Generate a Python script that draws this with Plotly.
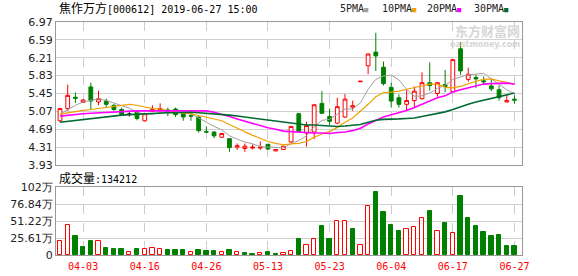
import plotly.graph_objects as go

# ---------------- data ----------------
dates = ["03-29", "04-01", "04-02", "04-03", "04-04", "04-08", "04-09", "04-10", "04-11", "04-12",
         "04-15", "04-16", "04-17", "04-18", "04-19", "04-22", "04-23", "04-24", "04-25", "04-26",
         "04-29", "04-30", "05-06", "05-07", "05-08", "05-09", "05-10", "05-13", "05-14", "05-15",
         "05-16", "05-17", "05-20", "05-21", "05-22", "05-23", "05-24", "05-27", "05-28", "05-29",
         "05-30", "05-31", "06-03", "06-04", "06-05", "06-06", "06-10", "06-11", "06-12", "06-13",
         "06-14", "06-17", "06-18", "06-19", "06-20", "06-21", "06-24", "06-25", "06-26", "06-27"]

open_ = [4.87, 5.13, 5.37, 5.26, 5.59, 5.27, 5.29, 5.20, 5.11, 5.01,
         5.06, 4.87, 5.07, 5.09, 5.10, 5.12, 5.02, 4.98, 4.95, 4.64,
         4.63, 4.52, 4.49, 4.31, 4.28, 4.29, 4.29, 4.37, 4.23, 4.26,
         4.42, 5.02, 4.61, 4.63, 5.24, 4.96, 4.82, 4.95, 5.16, 5.70,
         6.04, 6.33, 6.01, 5.58, 5.36, 5.22, 5.30, 5.34, 5.68, 5.45,
         5.64, 5.49, 6.40, 5.75, 5.79, 5.72, 5.61, 5.53, 5.27, 5.33]
high = [5.14, 5.64, 5.47, 5.33, 5.68, 5.51, 5.34, 5.22, 5.15, 5.05,
        5.08, 5.03, 5.20, 5.24, 5.15, 5.15, 5.03, 5.01, 4.96, 4.75,
        4.65, 4.61, 4.50, 4.39, 4.39, 4.37, 4.43, 4.38, 4.27, 4.34,
        4.76, 5.04, 4.85, 5.22, 5.50, 5.13, 5.36, 5.44, 5.30, 5.71,
        6.30, 6.74, 6.13, 5.68, 5.43, 5.52, 5.60, 5.90, 6.11, 5.69,
        5.95, 6.18, 6.54, 6.00, 5.85, 5.81, 5.76, 5.62, 5.41, 5.41]
low = [4.84, 5.08, 5.25, 5.25, 5.11, 5.20, 5.16, 5.08, 4.97, 4.96,
       4.88, 4.85, 5.06, 5.08, 4.97, 4.95, 4.87, 4.87, 4.62, 4.62,
       4.50, 4.51, 4.21, 4.25, 4.21, 4.26, 4.25, 4.25, 4.22, 4.25,
       4.40, 4.64, 4.32, 4.48, 5.02, 4.78, 4.80, 4.93, 5.08, 5.70,
       5.86, 5.93, 5.62, 5.15, 5.15, 5.09, 5.16, 5.32, 5.51, 5.38,
       5.48, 5.47, 5.85, 5.70, 5.57, 5.64, 5.50, 5.30, 5.26, 5.23]
close = [5.13, 5.41, 5.35, 5.31, 5.29, 5.34, 5.22, 5.11, 5.01, 5.01,
         4.92, 5.02, 5.11, 5.13, 5.07, 5.00, 4.95, 4.97, 4.66, 4.63,
         4.55, 4.60, 4.30, 4.34, 4.33, 4.31, 4.31, 4.27, 4.26, 4.33,
         4.75, 4.65, 4.77, 5.21, 5.03, 4.86, 5.17, 5.33, 5.19, 5.71,
         6.29, 6.25, 5.66, 5.29, 5.22, 5.30, 5.50, 5.68, 5.62, 5.68,
         5.60, 6.17, 5.93, 5.86, 5.76, 5.70, 5.55, 5.36, 5.30, 5.31]

ma5 = [5.01, 5.11, 5.20, 5.27, 5.30, 5.34, 5.30, 5.25, 5.19, 5.14,
       5.05, 5.01, 5.01, 5.04, 5.05, 5.07, 5.05, 5.02, 4.93, 4.84,
       4.75, 4.68, 4.55, 4.48, 4.42, 4.38, 4.32, 4.31, 4.30, 4.30,
       4.38, 4.45, 4.55, 4.74, 4.88, 4.90, 5.01, 5.12, 5.12, 5.25,
       5.54, 5.75, 5.82, 5.84, 5.74, 5.54, 5.39, 5.40, 5.46, 5.56,
       5.62, 5.75, 5.80, 5.85, 5.86, 5.88, 5.76, 5.65, 5.53, 5.44]
ma10 = [5.01, 5.04, 5.07, 5.09, 5.11, 5.13, 5.15, 5.18, 5.20, 5.22,
        5.20, 5.16, 5.13, 5.12, 5.09, 5.06, 5.03, 5.02, 4.98, 4.95,
        4.91, 4.87, 4.79, 4.71, 4.63, 4.56, 4.50, 4.43, 4.39, 4.36,
        4.38, 4.39, 4.43, 4.52, 4.59, 4.64, 4.73, 4.84, 4.93, 5.07,
        5.22, 5.38, 5.47, 5.48, 5.50, 5.54, 5.57, 5.61, 5.65, 5.65,
        5.58, 5.57, 5.60, 5.66, 5.71, 5.75, 5.76, 5.72, 5.69, 5.65]
ma20 = [4.97, 4.99, 5.01, 5.02, 5.03, 5.04, 5.05, 5.06, 5.07, 5.07,
        5.08, 5.08, 5.08, 5.09, 5.09, 5.09, 5.09, 5.09, 5.09, 5.08,
        5.05, 5.01, 4.96, 4.91, 4.86, 4.81, 4.77, 4.72, 4.69, 4.65,
        4.64, 4.63, 4.61, 4.61, 4.61, 4.60, 4.62, 4.63, 4.66, 4.71,
        4.80, 4.88, 4.95, 5.00, 5.04, 5.09, 5.15, 5.22, 5.29, 5.36,
        5.40, 5.48, 5.53, 5.57, 5.60, 5.65, 5.66, 5.67, 5.67, 5.65]
ma30 = [4.84, 4.86, 4.88, 4.90, 4.92, 4.94, 4.96, 4.98, 4.99, 5.00,
        5.01, 5.02, 5.03, 5.03, 5.04, 5.04, 5.05, 5.05, 5.04, 5.03,
        5.02, 5.01, 4.99, 4.97, 4.95, 4.93, 4.90, 4.88, 4.86, 4.84,
        4.83, 4.80, 4.78, 4.78, 4.77, 4.76, 4.75, 4.76, 4.77, 4.79,
        4.84, 4.88, 4.90, 4.90, 4.91, 4.92, 4.93, 4.96, 4.99, 5.03,
        5.06, 5.11, 5.17, 5.22, 5.27, 5.31, 5.35, 5.39, 5.42, 5.46]

volume_wan = [20.6, 45.6, 28.0, 12.3, 20.6, 20.6, 10.3, 8.8, 8.8, 4.4,
              8.8, 8.8, 10.3, 8.8, 7.4, 7.4, 7.4, 4.4, 7.4, 6.4,
              6.4, 4.4, 7.4, 4.4, 3.4, 1.5, 2.9, 4.9, 1.5, 2.9,
              5.9, 23.5, 14.7, 24.5, 44.1, 23.5, 51.0, 51.0, 39.7, 15.7,
              73.6, 94.2, 64.7, 45.6, 36.8, 39.2, 42.2, 55.4, 66.2, 36.3,
              48.6, 33.8, 88.3, 55.9, 44.1, 34.3, 28.0, 29.4, 13.2, 13.42]
# 1 = close not below previous close (red), 0 = lower (green)
volume_up = [1, 1, 0, 0, 0, 1, 0, 0, 0, 1,
             0, 1, 1, 1, 0, 0, 0, 1, 0, 0,
             0, 1, 0, 1, 0, 0, 1, 0, 0, 1,
             1, 0, 1, 1, 0, 0, 1, 1, 0, 1,
             1, 0, 0, 0, 0, 1, 1, 1, 0, 1,
             0, 1, 0, 0, 0, 0, 0, 0, 0, 0]

price_ticks = [3.93, 4.31, 4.69, 5.07, 5.45, 5.83, 6.21, 6.59, 6.97]
vol_ticks = [0, 25.61, 51.22, 76.83, 102.44]
vol_tick_text = ["0", "25.61万", "51.22万", "76.84万", "102万"]
date_ticks = ["04-03", "04-16", "04-26", "05-13", "05-23", "06-04", "06-17", "06-27"]
ma_names = ["5PMA", "10PMA", "20PMA", "30PMA"]
stock_name = "焦作万方"
stock_code = "000612"
timestamp = "2019-06-27 15:00"
last_volume = 134212

# ---------------- styling ----------------
W, H = 578, 276
ML, MR, MT, MB = 56, 56, 22, 21
PW, PH = W - ML - MR, H - MT - MB
RED, GREEN, BLACK = "#ff0000", "#008000", "#000000"
MA_COLORS = ["#a0a0a0", "#f0a000", "#ff00ff", "#006a30"]
MA_WIDTHS = [1, 1.2, 1.6, 1.6]
GRID, FRAME = "#d0d0d0", "#999999"
MONO = "DejaVu Sans Mono"
CJK = "Noto Sans CJK SC"


def px_x(x):
    return (x - ML) / PW


def px_y(y):
    return (H - MB - y) / PH


fig = go.Figure()

moving = [i for i in range(len(dates)) if open_[i] != close[i]]
flat = [i for i in range(len(dates)) if open_[i] == close[i]]

fig.add_trace(go.Candlestick(
    x=[dates[i] for i in moving], open=[open_[i] for i in moving], high=[high[i] for i in moving],
    low=[low[i] for i in moving], close=[close[i] for i in moving],
    increasing=dict(line=dict(color=RED, width=1), fillcolor="#ffffff"),
    decreasing=dict(line=dict(color=GREEN, width=1), fillcolor=GREEN),
    whiskerwidth=0, showlegend=False, hoverinfo="skip", xaxis="x", yaxis="y"))
fig.add_trace(go.Candlestick(
    x=[dates[i] for i in flat], open=[open_[i] for i in flat], high=[high[i] for i in flat],
    low=[low[i] for i in flat], close=[close[i] for i in flat],
    increasing=dict(line=dict(color=BLACK, width=1), fillcolor=BLACK),
    decreasing=dict(line=dict(color=BLACK, width=1), fillcolor=BLACK),
    whiskerwidth=0, showlegend=False, hoverinfo="skip", xaxis="x", yaxis="y"))

for name, vals, col, lw in zip(ma_names, [ma5, ma10, ma20, ma30], MA_COLORS, MA_WIDTHS):
    fig.add_trace(go.Scatter(x=dates, y=vals, mode="lines", name=name,
                             line=dict(color=col, width=lw), showlegend=False,
                             hoverinfo="skip", xaxis="x", yaxis="y"))

fig.add_trace(go.Bar(
    x=dates, y=volume_wan, width=0.56,
    marker=dict(color=["#ffffff" if u else GREEN for u in volume_up],
                line=dict(color=[RED if u else GREEN for u in volume_up], width=1)),
    showlegend=False, hoverinfo="skip", xaxis="x2", yaxis="y2"))

xcommon = dict(type="category", categoryorder="array", categoryarray=dates,
               range=[-0.52, len(dates) - 0.02], tickvals=date_ticks,
               showgrid=True, gridcolor="#cccccc", griddash="dash", gridwidth=1,
               showline=True, linecolor=FRAME, linewidth=1, mirror=True, ticks="",
               zeroline=False, fixedrange=True, automargin=False)
ycommon = dict(showgrid=True, gridcolor=GRID, gridwidth=1, showline=True, linecolor=FRAME,
               mirror=True, ticks="", zeroline=False, fixedrange=True, automargin=False,
               tickfont=dict(family="DejaVu Sans", size=11, color="#222222"))

fig.update_layout(
    width=W, height=H, margin=dict(l=ML, r=MR, t=MT, b=MB, pad=0, autoexpand=False),
    paper_bgcolor="#ffffff", plot_bgcolor="#ffffff", showlegend=False,
    bargap=0,
    xaxis=dict(**xcommon, anchor="y", domain=[0, 1], showticklabels=False,
               rangeslider=dict(visible=False)),
    xaxis2=dict(**xcommon, anchor="y2", domain=[0, 1], showticklabels=True,
                ticklabelstandoff=2,
                tickfont=dict(family=MONO, size=10, color=RED)),
    yaxis=dict(**ycommon, domain=[px_y(165), 1], range=[price_ticks[0], price_ticks[-1]],
               tickvals=price_ticks, ticktext=[f"{v:.2f}" for v in price_ticks]),
    yaxis2=dict(**ycommon, domain=[0, px_y(187)], range=[vol_ticks[0], vol_ticks[-1]],
                tickvals=vol_ticks, ticktext=vol_tick_text),
)

ann = []
ann.append(dict(x=px_x(57), y=px_y(8), xref="paper", yref="paper", xanchor="left", yanchor="middle",
                showarrow=False,
                text=f'<span style="font-family:{CJK};font-size:12px">{stock_name}</span>[{stock_code}] {timestamp}',
                font=dict(family=MONO, size=10, color="#000000")))
legend_x = [338, 380, 425, 472]
for name, col, lx in zip(ma_names, MA_COLORS, legend_x):
    ann.append(dict(x=px_x(lx), y=px_y(9), xref="paper", yref="paper", xanchor="left",
                    yanchor="middle", showarrow=False,
                    text=f'{name}<span style="color:{col};font-size:7px">■</span>',
                    font=dict(family=MONO, size=10, color="#222222")))
ann.append(dict(x=px_x(57), y=px_y(177), xref="paper", yref="paper", xanchor="left", yanchor="middle",
                showarrow=False,
                text=f'<span style="font-family:{CJK};font-size:12px">成交量</span>:{last_volume}',
                font=dict(family=MONO, size=10, color="#000000")))
# watermark
ann.append(dict(x=1.0, y=px_y(30), xref="paper", yref="paper", xanchor="right", yanchor="middle",
                showarrow=False, text="<b>东方财富网</b>",
                font=dict(family=CJK, size=13, color="#d6d6d6")))
ann.append(dict(x=1.0, y=px_y(44), xref="paper", yref="paper", xanchor="right", yanchor="middle",
                showarrow=False, text="<b>eastmoney.com</b>",
                font=dict(family="DejaVu Sans", size=8, color="#d6d6d6")))
fig.update_layout(annotations=ann)

fig.write_html("out.html", include_plotlyjs=True, config={"displayModeBar": False})
